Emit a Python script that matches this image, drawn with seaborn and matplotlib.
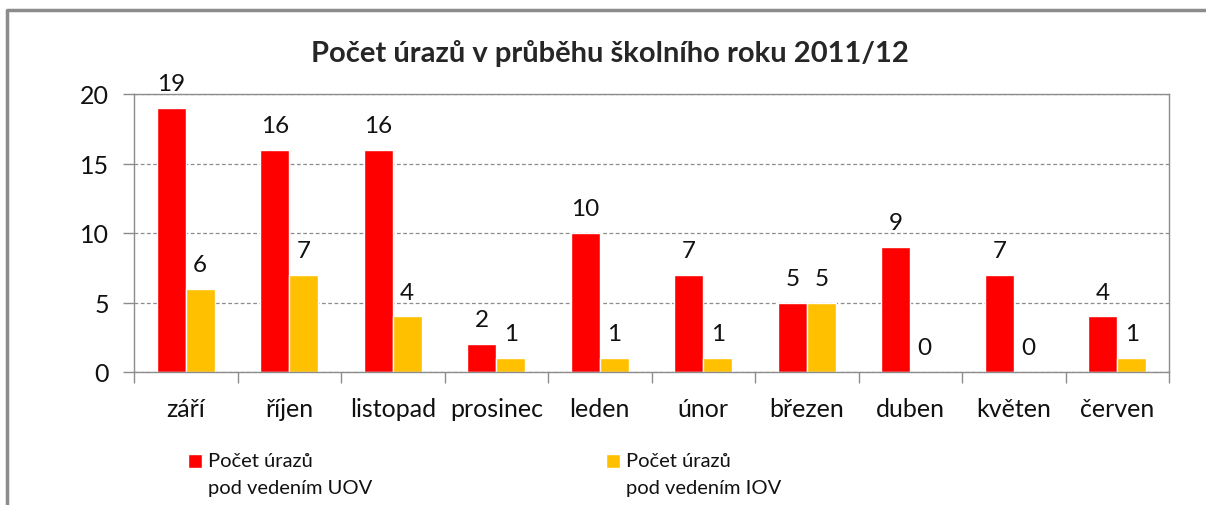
import pandas as pd
import numpy as np
import matplotlib
matplotlib.use("Agg")
import matplotlib.pyplot as plt
from matplotlib.lines import Line2D
from matplotlib.patches import Rectangle
from matplotlib.legend_handler import HandlerPatch
import seaborn as sns

# data
months = ["září", "říjen", "listopad", "prosinec", "leden", "únor", "březen", "duben", "květen", "červen"]
uov = [19, 16, 16, 2, 10, 7, 5, 9, 7, 4]
iov = [6, 7, 4, 1, 1, 1, 5, 0, 0, 1]
series = ["Počet úrazů\npod vedením UOV", "Počet úrazů\npod vedením IOV"]
colors = ["#FF0000", "#FFC000"]
yticks = [0, 5, 10, 15, 20]

df = pd.DataFrame({
    "month": months * 2,
    "value": uov + iov,
    "series": [series[0]] * len(months) + [series[1]] * len(months),
})

sns.set_style("white")
plt.rcParams["font.family"] = ["Lato", "DejaVu Sans"]

fig = plt.figure(figsize=(12.06, 5.06), dpi=100)
ax = fig.add_axes([134 / 1206, 1 - 373 / 506, (1169 - 134) / 1206, (373 - 95) / 506])

sns.barplot(data=df, x="month", y="value", hue="series", palette=colors,
            width=0.56, gap=0, saturation=1, ax=ax, order=months, hue_order=series)

for cont in ax.containers:
    ax.bar_label(cont, padding=10, fontsize=17.5, color="#111111")

ax.set_xlim(-0.5, len(months) - 0.5)
ax.set_ylim(0, 20)
ax.set_yticks(yticks)
ax.set_xlabel("")
ax.set_ylabel("")
ax.yaxis.grid(True, linestyle=(0, (3, 2)), color="#8c8c8c", linewidth=0.9)
ax.set_axisbelow(True)
for s in ax.spines.values():
    s.set_visible(True)
    s.set_color("#8c8c8c")
    s.set_linewidth(1)

ax.set_xticks(np.arange(-0.5, len(months)), minor=True)
ax.tick_params(axis="x", which="major", bottom=False, length=0, pad=18, labelsize=18, labelcolor="#111111")
ax.tick_params(axis="x", which="minor", bottom=True, length=8, color="#8c8c8c", width=1)
ax.tick_params(axis="y", left=True, length=8, color="#8c8c8c", width=1, pad=10, labelsize=18, labelcolor="#111111")

ax.set_title("Počet úrazů v průběhu školního roku 2011/12", fontsize=21,
             fontweight="bold", pad=24, x=476 / 1035)


def top_square(legend, orig_handle, xdescent, ydescent, width, height, fontsize):
    # square next to the first line of a two-line label
    return Rectangle((-xdescent, -ydescent + 0.65 * fontsize), width, height)


leg = ax.legend(loc="upper left", bbox_to_anchor=(188 / 1206, 1 - 453 / 506),
                bbox_transform=fig.transFigure, ncol=2, frameon=False,
                fontsize=14.5, handlelength=0.7, handleheight=0.7,
                handletextpad=0.3, columnspacing=11.6, borderaxespad=0, borderpad=0,
                handler_map={Rectangle: HandlerPatch(patch_func=top_square)})
for t in leg.get_texts():
    t.set_linespacing(1.7)
    t.set_color("#111111")

# outer frame of the chart
fig.add_artist(Line2D([7 / 1206, 7 / 1206, 1], [0, 1 - 11 / 506, 1 - 11 / 506],
                      transform=fig.transFigure, color="#8c8c8c", linewidth=2.5))

fig.savefig("out.png", dpi=100)
